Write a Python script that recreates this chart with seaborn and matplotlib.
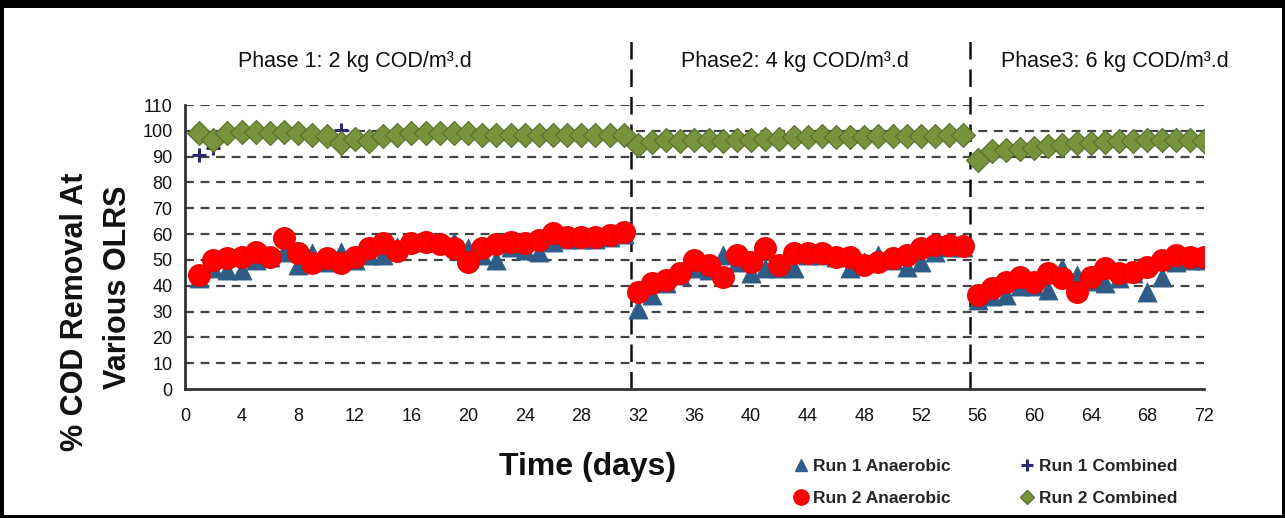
import matplotlib
matplotlib.use("Agg")
import matplotlib.pyplot as plt
import seaborn as sns
import pandas as pd
import numpy as np
from matplotlib.patches import Rectangle
from matplotlib.lines import Line2D

days = list(range(1, 73))

run1_anaerobic = [43, 47, 46, 46, 50, 51, 53, 48, 52.7, 49, 53, 50, 52, 52, 55, 57, 57.5, 57, 57, 54.6,
                  52, 50, 55, 54, 53, 57, 58, 58, 58, 59, 60,
                  31, 36.4, 41, 44, 47, 46, 51.9, 49, 45, 47, 47, 47, 52, 52, 51, 47, 49, 52, 50, 47.4,
                  49, 53, 55, 55,
                  34.5, 36, 36.4, 40, 40, 38.4, 46.8, 44, 42, 41, 43, 45, 37.7, 43.5, 49, 50, 50]
run2_anaerobic = [44.2, 50, 50.6, 51.3, 53.2, 51.3, 58.5, 52.7, 48.8, 50.6, 48.8, 51.3, 54.6, 56.6, 53.4,
                  56.6, 57, 56, 54.6, 49.3, 54.6, 56, 57, 56.6, 57.8, 60.4, 59, 59, 59, 59.7, 61,
                  37.7, 41, 42.2, 44.8, 50, 48.1, 43.5, 51.9, 49.3, 54.5, 48.1, 52.6, 52.6, 52.6, 51.3,
                  51.3, 48.1, 49.3, 50.6, 51.9, 54.5, 55.8, 55.8, 55.2,
                  36.4, 39, 41.6, 43.5, 41.6, 44.8, 42.9, 37.7, 43.5, 46.8, 44.8, 45.5, 47.4, 50, 51.9,
                  51.3, 51.3]
run1_combined = [90.7, 93.4, 98.5, 99, 99, 99, 99, 99, 98.5, 98.5, 100.4, 98, 97, 98, 98.5, 98.5, 98.5,
                 98.5, 98.5, 98.5, 98, 98, 98, 98, 98, 98, 98, 98, 98, 98, 98,
                 95, 96, 96, 97, 97.5, 97.5, 97.5, 97.5, 97.5, 97.5, 98, 98, 98, 98, 98, 98, 98, 98, 98, 98,
                 98, 98, 98, 98,
                 87, 91, 92, 92.5, 93, 93.5, 94, 95, 95, 95.5, 95.5, 96, 96, 96, 96, 96, 96]
run2_combined = [99, 96.5, 99, 99.5, 99.5, 99, 99.5, 99, 98.5, 98, 95.2, 97, 95.9, 97.8, 98.5, 99, 99, 99,
                 99, 99, 98.5, 98.5, 98.5, 98.5, 98.5, 98.5, 98.5, 98.5, 98.5, 98.5, 98.5,
                 94.6, 95.5, 96.5, 96, 96.5, 96.5, 96, 96.5, 96.5, 97, 97, 97.5, 97.5, 98, 97.5, 97.5,
                 97.5, 98, 98, 98, 98, 98, 98.5, 98.5,
                 88.8, 92, 92.6, 92.8, 93.3, 94, 94.6, 95.3, 95.3, 95.6, 96, 96, 96.5, 96.5, 96.5,
                 96.5, 96]

series_names = ["Run 1 Anaerobic", "Run 2 Anaerobic", "Run 1 Combined", "Run 2 Combined"]
phase_bounds = [31.5, 55.5]
phase_labels = ["Phase 1: 2 kg COD/m\u00b3.d", "Phase2: 4 kg COD/m\u00b3.d", "Phase3: 6 kg COD/m\u00b3.d"]
x_ticks = list(range(0, 73, 4))
y_ticks = list(range(0, 111, 10))

sns.set_style("white")
FONT = ["Liberation Sans Narrow", "Liberation Sans", "DejaVu Sans"]
plt.rcParams["font.family"] = FONT

W, H = 1285, 518
fig = plt.figure(figsize=(W / 100, H / 100), dpi=100)
ax = fig.add_axes([185 / W, 1 - 389 / H, (1204 - 185) / W, (389 - 105) / H])

df = pd.DataFrame({"day": days, series_names[0]: run1_anaerobic, series_names[1]: run2_anaerobic,
                   series_names[2]: run1_combined, series_names[3]: run2_combined})

styles = {
    "Run 1 Anaerobic": dict(marker="^", s=190, color="#2F5C86", edgecolor="#2F5C86", linewidth=0.5, zorder=3),
    "Run 2 Anaerobic": dict(marker="o", s=240, color="#FF0000", edgecolor="#F00000", linewidth=1.0, zorder=4),
    "Run 1 Combined": dict(marker="+", s=110, color="#2B2B6B", edgecolor="#2B2B6B", linewidth=2.2, zorder=3),
    "Run 2 Combined": dict(marker="D", s=150, color="#77933C", edgecolor="#5A7030", linewidth=0.8, zorder=4),
}
for name in series_names:
    st = styles[name]
    if st["marker"] == "+":
        sns.scatterplot(data=df, x="day", y=name, ax=ax, marker="+", s=st["s"], color=st["color"],
                        linewidth=st["linewidth"], zorder=st["zorder"], legend=False)
    else:
        sns.scatterplot(data=df, x="day", y=name, ax=ax, marker=st["marker"], s=st["s"], color=st["color"],
                        edgecolor=st["edgecolor"], linewidth=st["linewidth"], zorder=st["zorder"], legend=False)

ax.set_xlim(0, 72)
ax.set_ylim(0, 110)
ax.set_xticks(x_ticks)
ax.set_yticks(y_ticks)
ax.set_xlabel("")
ax.set_ylabel("")
for y in y_ticks[1:]:
    ax.axhline(y, color="#444444", lw=1.6, ls=(0, (4, 3)), zorder=1)

for xb in phase_bounds:
    ax.axvline(xb, ymin=0, ymax=(389 - 35) / (389 - 105), color="#111111", lw=1.8,
               ls=(0, (7, 4)), clip_on=False, zorder=2)

for s in ["top", "right"]:
    ax.spines[s].set_visible(False)
for s in ["left", "bottom"]:
    ax.spines[s].set_color("#333333")
    ax.spines[s].set_linewidth(2)
ax.tick_params(axis="y", length=5, width=1.5, color="#333333", labelsize=13, pad=4, labelcolor="#111111")
ax.tick_params(axis="x", length=0, labelsize=13, pad=14, labelcolor="#111111")

# phase labels
phase_x = [355, 795, 1115]
for px, lab in zip(phase_x, phase_labels):
    fig.text(px / W, 1 - 62 / H, lab, ha="center", va="center", fontsize=15.5, color="#111111")

# axis labels
fig.text(588 / W, 1 - 467 / H, "Time (days)", ha="center", va="center", fontsize=23,
         fontweight="bold", color="#111111")
fig.text(75 / W, 1 - 312 / H, "% COD Removal At", ha="center", va="center", rotation=90, fontsize=22,
         fontweight="bold", color="#111111")
fig.text(118 / W, 1 - 287 / H, "Various OLRS", ha="center", va="center", rotation=90, fontsize=22,
         fontweight="bold", color="#111111")

# legend
handles = [
    Line2D([], [], ls="none", marker="^", ms=9, color="#2F5C86"),
    Line2D([], [], ls="none", marker="o", ms=11, color="#FF0000"),
    Line2D([], [], ls="none", marker="+", ms=8, mew=2.2, color="#2B2B6B"),
    Line2D([], [], ls="none", marker="D", ms=7, color="#77933C", mec="#5A7030"),
]
fig.legend(handles, series_names, ncol=2, loc="upper left", bbox_to_anchor=(778 / W, 1 - 443 / H),
           frameon=False, prop={"family": FONT, "weight": "bold", "size": 12.5},
           handlelength=0.8, handletextpad=0.3, columnspacing=4.0, labelspacing=1.0)

# outer frame
fig.patches.append(Rectangle((0, 0), 1, 1, transform=fig.transFigure, fill=False,
                             edgecolor="black", lw=5, zorder=10))
fig.patches.append(Rectangle((0, 1 - 8 / H), 1, 8 / H, transform=fig.transFigure, fill=True,
                             facecolor="black", edgecolor="none", zorder=10))

fig.savefig("out.png", dpi=100)
